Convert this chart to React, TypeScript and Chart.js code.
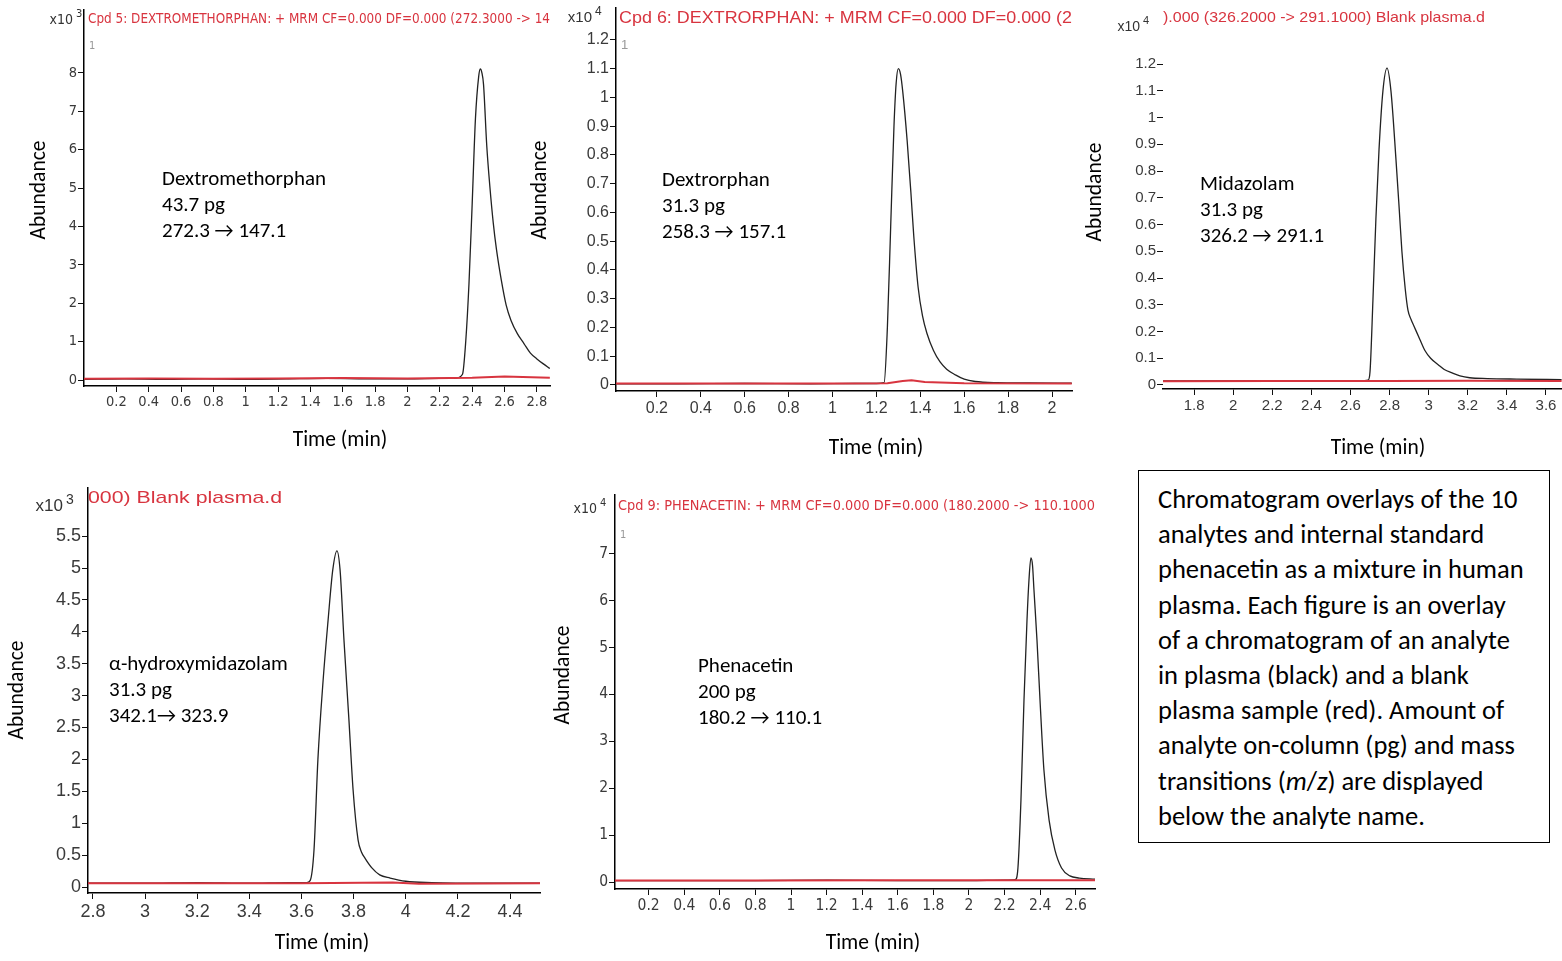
import React, { useEffect, useRef } from "react";
import { Chart, registerables } from "chart.js";
Chart.register(...registerables);

// ---------------- data ----------------
// Dextromethorphan (abundance x10^3)
const dxmTime = [0.0, 0.25, 0.5, 0.75, 1.0, 1.25, 1.5, 1.75, 2.0, 2.2, 2.3, 2.34, 2.36, 2.38, 2.4, 2.42, 2.44, 2.45, 2.46, 2.47, 2.49, 2.51, 2.53, 2.55, 2.58, 2.61, 2.64, 2.68, 2.72, 2.76, 2.8, 2.84, 2.88];
const dxmSample = [0.02, 0.03, 0.02, 0.03, 0.02, 0.03, 0.04, 0.03, 0.03, 0.04, 0.05, 0.15, 1.0, 2.5, 4.6, 6.8, 7.9, 8.1, 8.0, 7.7, 6.1, 5.0, 4.1, 3.4, 2.6, 1.95, 1.55, 1.2, 0.95, 0.7, 0.55, 0.42, 0.3];
const dxmBlankTime = [0.0, 0.4, 0.8, 1.2, 1.6, 2.0, 2.4, 2.6, 2.88];
const dxmBlank = [0.03, 0.04, 0.03, 0.04, 0.05, 0.04, 0.06, 0.09, 0.06];

// Dextrorphan (abundance x10^4)
const dxoTime = [0.01, 0.3, 0.6, 0.9, 1.1, 1.2, 1.235, 1.25, 1.265, 1.28, 1.29, 1.3, 1.31, 1.32, 1.34, 1.357, 1.37, 1.39, 1.41, 1.43, 1.46, 1.49, 1.52, 1.56, 1.6, 1.65, 1.75, 1.9, 2.09];
const dxoSample = [0.004, 0.004, 0.005, 0.004, 0.005, 0.005, 0.008, 0.2, 0.55, 0.9, 1.05, 1.1, 1.08, 1.02, 0.85, 0.67, 0.52, 0.34, 0.24, 0.18, 0.12, 0.08, 0.055, 0.035, 0.02, 0.012, 0.008, 0.007, 0.006];
const dxoBlankTime = [0.01, 0.5, 1.0, 1.25, 1.32, 1.36, 1.42, 1.6, 2.09];
const dxoBlank = [0.005, 0.005, 0.005, 0.006, 0.014, 0.016, 0.01, 0.006, 0.005];

// Midazolam (abundance x10^4)
const midTime = [1.64, 1.9, 2.2, 2.5, 2.65, 2.69, 2.7, 2.715, 2.73, 2.746, 2.766, 2.787, 2.807, 2.833, 2.85, 2.863, 2.88, 2.894, 2.91, 2.925, 2.955, 2.98, 3.01, 3.05, 3.08, 3.12, 3.16, 3.21, 3.3, 3.45, 3.68];
const midSample = [0.015, 0.015, 0.016, 0.015, 0.016, 0.018, 0.05, 0.32, 0.62, 0.88, 1.1, 1.185, 1.1, 0.84, 0.65, 0.5, 0.36, 0.28, 0.245, 0.22, 0.17, 0.13, 0.1, 0.075, 0.058, 0.045, 0.034, 0.027, 0.024, 0.022, 0.02];
const midBlankTime = [1.64, 2.2, 2.8, 3.2, 3.68];
const midBlank = [0.014, 0.015, 0.015, 0.016, 0.015];

// alpha-hydroxymidazolam (abundance x10^3)
const ohmTime = [2.78, 3.0, 3.2, 3.4, 3.55, 3.62, 3.633, 3.648, 3.663, 3.683, 3.702, 3.72, 3.736, 3.748, 3.763, 3.782, 3.798, 3.817, 3.83, 3.844, 3.87, 3.9, 3.94, 4.0, 4.1, 4.3, 4.515];
const ohmSample = [0.06, 0.06, 0.07, 0.06, 0.07, 0.07, 0.1, 0.58, 2.0, 3.24, 4.18, 4.97, 5.27, 4.97, 3.87, 2.62, 1.52, 0.74, 0.55, 0.45, 0.3, 0.19, 0.14, 0.09, 0.07, 0.06, 0.06];
const ohmBlankTime = [2.78, 3.2, 3.6, 3.95, 4.05, 4.515];
const ohmBlank = [0.06, 0.06, 0.06, 0.07, 0.05, 0.06];

// Phenacetin (abundance x10^4)
const phnTime = [0.01, 0.4, 0.8, 1.2, 1.6, 2.0, 2.2, 2.26, 2.275, 2.292, 2.309, 2.326, 2.337, 2.348, 2.357, 2.365, 2.382, 2.399, 2.421, 2.45, 2.483, 2.52, 2.567, 2.62, 2.708];
const phnSample = [0.03, 0.03, 0.03, 0.04, 0.03, 0.03, 0.04, 0.05, 0.3, 1.75, 3.88, 5.59, 6.44, 6.91, 6.75, 6.23, 5.16, 3.88, 2.39, 1.32, 0.68, 0.3, 0.13, 0.085, 0.06];
const phnBlankTime = [0.01, 0.8, 1.6, 2.3, 2.708];
const phnBlank = [0.03, 0.03, 0.04, 0.04, 0.04];

// tick labels
const dxmXTicks = [0.2, 0.4, 0.6, 0.8, 1, 1.2, 1.4, 1.6, 1.8, 2, 2.2, 2.4, 2.6, 2.8];
const dxmYTicks = [0, 1, 2, 3, 4, 5, 6, 7, 8];
const dxoXTicks = [0.2, 0.4, 0.6, 0.8, 1, 1.2, 1.4, 1.6, 1.8, 2];
const dxoYTicks = [0, 0.1, 0.2, 0.3, 0.4, 0.5, 0.6, 0.7, 0.8, 0.9, 1, 1.1, 1.2];
const midXTicks = [1.8, 2, 2.2, 2.4, 2.6, 2.8, 3, 3.2, 3.4, 3.6];
const midYTicks = [0, 0.1, 0.2, 0.3, 0.4, 0.5, 0.6, 0.7, 0.8, 0.9, 1, 1.1, 1.2];
const ohmXTicks = [2.8, 3, 3.2, 3.4, 3.6, 3.8, 4, 4.2, 4.4];
const ohmYTicks = [0, 0.5, 1, 1.5, 2, 2.5, 3, 3.5, 4, 4.5, 5, 5.5];
const phnXTicks = [0.2, 0.4, 0.6, 0.8, 1, 1.2, 1.4, 1.6, 1.8, 2, 2.2, 2.4, 2.6];
const phnYTicks = [0, 1, 2, 3, 4, 5, 6, 7];

// text
const analyteNames = ["Dextromethorphan", "Dextrorphan", "Midazolam", "α-hydroxymidazolam", "Phenacetin"];
const amountsPg = ["43.7 pg", "31.3 pg", "31.3 pg", "31.3 pg", "200 pg"];
const transitions = ["272.3 → 147.1", "258.3 → 157.1", "326.2 → 291.1", "342.1→ 323.9", "180.2 → 110.1"];
const traceTitles = [
  "Cpd 5: DEXTROMETHORPHAN: + MRM CF=0.000 DF=0.000 (272.3000 -> 14",
  "Cpd 6: DEXTRORPHAN: + MRM CF=0.000 DF=0.000 (2",
  ").000 (326.2000 -> 291.1000) Blank plasma.d",
  "000) Blank plasma.d",
  "Cpd 9: PHENACETIN: + MRM CF=0.000 DF=0.000 (180.2000 -> 110.1000",
];
const exponents = ["3", "4", "4", "3", "4"];
const yAxisTitle = "Abundance";
const xAxisTitle = "Time (min)";

// ---------------- styling ----------------
const NARROW = '"Liberation Sans Narrow", "Arial Narrow", "DejaVu Sans Condensed", "Liberation Sans", sans-serif';
const ARIAL = '"Liberation Sans", Arial, sans-serif';
const CAL = 'Carlito, Lato, "Open Sans", sans-serif';
const RED = "#d8343f";
const INK = "#222";
const TICKC = "#3a3a3a";

const pts = (xs: number[], ys: number[]) => xs.map((x, i) => ({ x, y: ys[i] }));

type TextItem = {
  t: string; x: number; y: number; font: string; color?: string;
  align?: CanvasTextAlign; rot?: boolean; fitW?: number;
};

type PanelCfg = {
  id: string;
  canvas: [number, number, number, number];
  area: [number, number, number, number];
  xr: [number, number];
  yr: [number, number];
  xTicks: number[];
  yTicks: number[];
  tickFont: string;
  tickSize: number;
  yBorder: boolean;
  sample: { x: number; y: number }[];
  blank: { x: number; y: number }[];
  texts: TextItem[];
};

const LABEL_FONT = `21px ${CAL}`;
const AXIS_FONT = `21.5px ${CAL}`;

function annot(i: number, x: number, y0: number): TextItem[] {
  return [
    { t: analyteNames[i], x, y: y0, font: LABEL_FONT },
    { t: amountsPg[i], x, y: y0 + 26, font: LABEL_FONT },
    { t: transitions[i], x, y: y0 + 52, font: LABEL_FONT },
  ];
}

function axisTitles(ax: number, ay: number, tx: number, ty: number): TextItem[] {
  return [
    { t: yAxisTitle, x: ax, y: ay, font: AXIS_FONT, rot: true, align: "center" },
    { t: xAxisTitle, x: tx, y: ty, font: AXIS_FONT, align: "center" },
  ];
}

function expLabel(i: number, right: number, y: number, size: number, fam: string): TextItem[] {
  return [
    { t: "x10", x: right, y, font: `${size}px ${fam}`, color: "#333", align: "right" },
    { t: exponents[i], x: right + 3, y: y - 6, font: `${size - 3}px ${fam}`, color: "#333" },
  ];
}

const panels: PanelCfg[] = [
  {
    id: "dxm", canvas: [0, 0, 556, 470], area: [84, 10, 550, 386],
    xr: [0, 2.881], yr: [-0.156, 9.636], xTicks: dxmXTicks, yTicks: dxmYTicks,
    tickFont: NARROW, tickSize: 14.5, yBorder: true,
    sample: pts(dxmTime, dxmSample), blank: pts(dxmBlankTime, dxmBlank),
    texts: [
      ...expLabel(0, 73, 20, 14, NARROW),
      { t: traceTitles[0], x: 88, y: 19, font: `14px ${NARROW}`, color: RED, fitW: 462 },
      { t: "1", x: 89, y: 46, font: `11px ${NARROW}`, color: "#999" },
      ...axisTitles(40, 190, 340, 441),
      ...annot(0, 162, 180),
    ],
  },
  {
    id: "dxo", canvas: [525, 0, 550, 470], area: [616, 8, 1072, 391],
    xr: [0.0137, 2.091], yr: [-0.021, 1.311], xTicks: dxoXTicks, yTicks: dxoYTicks,
    tickFont: ARIAL, tickSize: 16, yBorder: true,
    sample: pts(dxoTime, dxoSample), blank: pts(dxoBlankTime, dxoBlank),
    texts: [
      ...expLabel(1, 592, 18, 15, ARIAL),
      { t: traceTitles[1], x: 619, y: 18, font: `17px ${ARIAL}`, color: RED, fitW: 453 },
      { t: "1", x: 621, y: 45, font: `13px ${ARIAL}`, color: "#999" },
      ...axisTitles(541, 190, 876, 449),
      ...annot(1, 662, 181),
    ],
  },
  {
    id: "mid", canvas: [1075, 0, 487, 470], area: [1163, 40, 1562, 389],
    xr: [1.641, 3.682], yr: [-0.015, 1.29], xTicks: midXTicks, yTicks: midYTicks,
    tickFont: ARIAL, tickSize: 15, yBorder: false,
    sample: pts(midTime, midSample), blank: pts(midBlankTime, midBlank),
    texts: [
      ...expLabel(2, 1140, 27, 14, ARIAL),
      { t: traceTitles[2], x: 1163, y: 18, font: `15px ${ARIAL}`, color: RED, fitW: 322 },
      ...axisTitles(1096, 192, 1378, 449),
      ...annot(2, 1200, 185),
    ],
  },
  {
    id: "ohm", canvas: [0, 470, 545, 491], area: [88, 488, 540, 893],
    xr: [2.781, 4.515], yr: [-0.094, 6.254], xTicks: ohmXTicks, yTicks: ohmYTicks,
    tickFont: ARIAL, tickSize: 18, yBorder: true,
    sample: pts(ohmTime, ohmSample), blank: pts(ohmBlankTime, ohmBlank),
    texts: [
      ...expLabel(3, 63, 506, 17, ARIAL),
      { t: traceTitles[3], x: 88, y: 498, font: `17px ${ARIAL}`, color: RED, fitW: 194 },
      ...axisTitles(18, 690, 322, 944),
      ...annot(3, 109, 665),
    ],
  },
  {
    id: "phn", canvas: [545, 470, 560, 491], area: [615, 495, 1095, 889],
    xr: [0.011, 2.708], yr: [-0.149, 8.252], xTicks: phnXTicks, yTicks: phnYTicks,
    tickFont: NARROW, tickSize: 15.5, yBorder: true,
    sample: pts(phnTime, phnSample), blank: pts(phnBlankTime, phnBlank),
    texts: [
      ...expLabel(4, 597, 509, 14, NARROW),
      { t: traceTitles[4], x: 618, y: 506, font: `14px ${NARROW}`, color: RED, fitW: 477 },
      { t: "1", x: 620, y: 535, font: `11px ${NARROW}`, color: "#999" },
      ...axisTitles(564, 675, 873, 944),
      ...annot(4, 698, 667),
    ],
  },
];

function Panel({ cfg }: { cfg: PanelCfg }) {
  const ref = useRef<HTMLCanvasElement>(null);
  const [cx, cy, cw, ch] = cfg.canvas;
  useEffect(() => {
    const [L, T, R, B] = cfg.area;
    const yW = L - cx;
    const xH = cy + ch - B;
    const textPlugin = {
      id: "txt_" + cfg.id,
      afterDraw(chart: any) {
        const ctx = chart.ctx as CanvasRenderingContext2D;
        ctx.save();
        for (const it of cfg.texts) {
          ctx.font = it.font;
          ctx.fillStyle = it.color || "#000";
          ctx.textAlign = it.align || "left";
          ctx.textBaseline = "middle";
          const x = it.x - cx;
          const y = it.y - cy;
          ctx.save();
          ctx.translate(x, y);
          if (it.rot) ctx.rotate(-Math.PI / 2);
          if (it.fitW) {
            const w = ctx.measureText(it.t).width;
            ctx.scale(it.fitW / w, 1);
          }
          ctx.fillText(it.t, 0, 0);
          ctx.restore();
        }
        ctx.restore();
      },
    };
    const tickFont = { family: cfg.tickFont, size: cfg.tickSize };
    const chart = new Chart(ref.current as HTMLCanvasElement, {
      type: "line",
      data: {
        datasets: [
          { label: "Blank plasma", data: cfg.blank, borderColor: RED, borderWidth: 2, pointRadius: 0, tension: 0 },
          { label: "Analyte in plasma", data: cfg.sample, borderColor: INK, borderWidth: 1.3, pointRadius: 0, cubicInterpolationMode: "monotone" },
        ],
      } as any,
      options: {
        animation: false,
        responsive: false,
        maintainAspectRatio: false,
        events: [],
        layout: { padding: { left: 0, top: T - cy, right: cx + cw - R, bottom: 0 } },
        plugins: { legend: { display: false }, tooltip: { enabled: false } },
        scales: {
          x: {
            type: "linear",
            min: cfg.xr[0],
            max: cfg.xr[1],
            afterBuildTicks: (s: any) => { s.ticks = cfg.xTicks.map((v) => ({ value: v })); },
            afterFit: (s: any) => { s.height = xH; s.paddingLeft = 0; s.paddingRight = 0; },
            ticks: { autoSkip: false, maxRotation: 0, minRotation: 0, padding: 2, font: tickFont, color: TICKC, callback: (v: any) => String(v) },
            grid: { drawOnChartArea: false, drawTicks: true, tickLength: 6, tickColor: "#111", tickWidth: 1 },
            border: { display: true, color: "#000", width: 1.6 },
          },
          y: {
            type: "linear",
            min: cfg.yr[0],
            max: cfg.yr[1],
            afterBuildTicks: (s: any) => { s.ticks = cfg.yTicks.map((v) => ({ value: v })); },
            afterFit: (s: any) => { s.width = yW; s.paddingTop = 0; s.paddingBottom = 0; },
            ticks: { autoSkip: false, padding: 1, font: tickFont, color: TICKC, callback: (v: any) => String(v) },
            grid: { drawOnChartArea: false, drawTicks: true, tickLength: 6, tickColor: "#111", tickWidth: 1 },
            border: { display: cfg.yBorder, color: "#000", width: 1.5 },
          },
        },
      } as any,
      plugins: [textPlugin],
    });
    return () => chart.destroy();
  }, []);
  return (
    <canvas
      ref={ref}
      width={cw}
      height={ch}
      style={{ position: "absolute", left: cx, top: cy, width: cw, height: ch }}
    />
  );
}

export default function App() {
  return (
    <div style={{ position: "absolute", left: 0, top: 0, width: 1562, height: 961, background: "#fff", overflow: "hidden" }}>
      {panels.map((p) => (
        <Panel key={p.id} cfg={p} />
      ))}
      <div
        style={{
          position: "absolute", left: 1138, top: 470, width: 412, height: 373,
          border: "1.5px solid #000", boxSizing: "border-box",
          padding: "11px 0 0 19px", fontFamily: CAL, fontSize: 26.5, lineHeight: "35.2px", color: "#000",
          whiteSpace: "nowrap", overflow: "hidden",
        }}
      >
        Chromatogram overlays of the 10<br />
        analytes and internal standard<br />
        phenacetin as a mixture in human<br />
        plasma. Each figure is an overlay<br />
        of a chromatogram of an analyte<br />
        in plasma (black) and a blank<br />
        plasma sample (red). Amount of<br />
        analyte on-column (pg) and mass<br />
        transitions (<i>m</i>/<i>z</i>) are displayed<br />
        below the analyte name.
      </div>
    </div>
  );
}
